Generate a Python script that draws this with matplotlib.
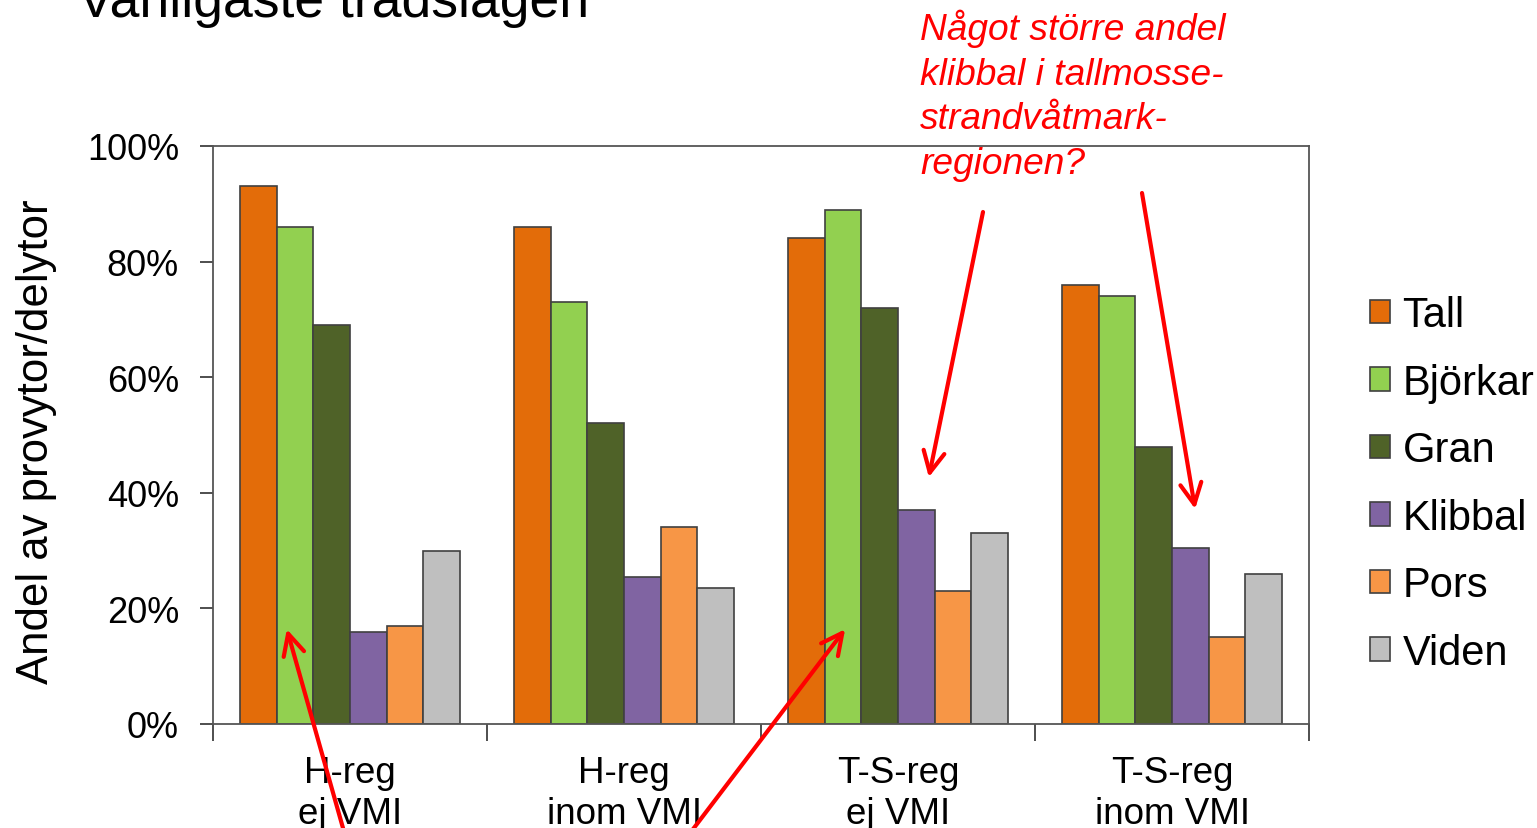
import numpy as np
import matplotlib.pyplot as plt

plt.rcParams['font.family'] = ['Liberation Sans', 'DejaVu Sans']

groups = ['H-reg\nej VMI', 'H-reg\ninom VMI', 'T-S-reg\nej VMI', 'T-S-reg\ninom VMI']
species = ['Tall', 'Björkar', 'Gran', 'Klibbal', 'Pors', 'Viden']
colors = ['#E36C09', '#92D050', '#4F6228', '#8064A2', '#F79646', '#BFBFBF']

tall = [93, 86, 84, 76]
bjorkar = [86, 73, 89, 74]
gran = [69, 52, 72, 48]
klibbal = [16, 25.5, 37, 30.5]
pors = [17, 34, 23, 15]
viden = [30, 23.5, 33, 26]
values = [tall, bjorkar, gran, klibbal, pors, viden]

fig = plt.figure(figsize=(15.37, 8.29), dpi=100)
ax = fig.add_axes([213/1537, 1-725/829, 1096/1537, 578/829])

x = np.arange(len(groups))
w = 0.134
for i, (name, vals) in enumerate(zip(species, values)):
    ax.bar(x + (i - 2.5) * w, vals, w, color=colors[i], edgecolor='#404040',
           linewidth=1.2, label=name, zorder=2)

ax.set_xlim(-0.5, 3.5)
ax.set_ylim(0, 100)
ax.set_yticks(np.arange(0, 101, 20))
ax.set_yticklabels(['%d%%' % v for v in range(0, 101, 20)], fontsize=26)
ax.set_xticks(np.arange(-0.5, 3.6, 1.0))
ax.set_xticklabels([])
ax.set_xticks(x, minor=True)
ax.set_xticklabels(groups, minor=True, fontsize=26.5, linespacing=1.2)
ax.tick_params(axis='x', which='minor', length=0, pad=22.5)
ax.tick_params(axis='x', which='major', length=12, width=1.3, color='#404040')
ax.tick_params(axis='y', length=9.5, width=1.3, color='#404040', pad=15)
for s in ax.spines.values():
    s.set_color('#555555')
    s.set_linewidth(1.3)

ax.set_ylabel('Andel av provytor/delytor', fontsize=31.5)
ax.yaxis.set_label_coords(-0.142, 0.491)

leg = ax.legend(loc='center left', bbox_to_anchor=(1.0557, 0.415), frameon=False,
                fontsize=30, handlelength=0.48, handleheight=0.48,
                handletextpad=0.3, labelspacing=0.66, borderaxespad=0,
                borderpad=0)
for h in leg.legend_handles:
    h.set_edgecolor('#404040')

# titel (avskuren i originalet)
fig.text(78/1537, 1-17/829, 'Vanligaste trädslagen', fontsize=38.5, va='baseline', ha='left')

fig.text(920/1537, 1-10/829,
         'Något större andel\nklibbal i tallmosse-\nstrandvåtmark-\nregionen?',
         color='red', style='italic', fontsize=26.7, va='top', ha='left', linespacing=1.35)

arrow = dict(arrowstyle='->', color='red', lw=3, mutation_scale=38, shrinkA=0, shrinkB=0)
# pilar från kommentaren
ax.annotate('', xy=(2 + 0.84 * w, 42.7), xycoords='data',
            xytext=(983/1537, 1-213/829), textcoords='figure fraction',
            arrowprops=arrow, annotation_clip=False)
ax.annotate('', xy=(3 + 0.63 * w, 37.2), xycoords='data',
            xytext=(1142/1537, 1-194/829), textcoords='figure fraction',
            arrowprops=arrow, annotation_clip=False)
# pilar nedifrån
ax.annotate('', xy=(0 - 1.72 * w, 16.4), xycoords='data',
            xytext=(350/1537, -0.03), textcoords='figure fraction',
            arrowprops=arrow, annotation_clip=False)
ax.annotate('', xy=(2 - 1.44 * w, 16.4), xycoords='data',
            xytext=(675/1537, -0.03), textcoords='figure fraction',
            arrowprops=arrow, annotation_clip=False)

fig.savefig('out.png', dpi=100)
